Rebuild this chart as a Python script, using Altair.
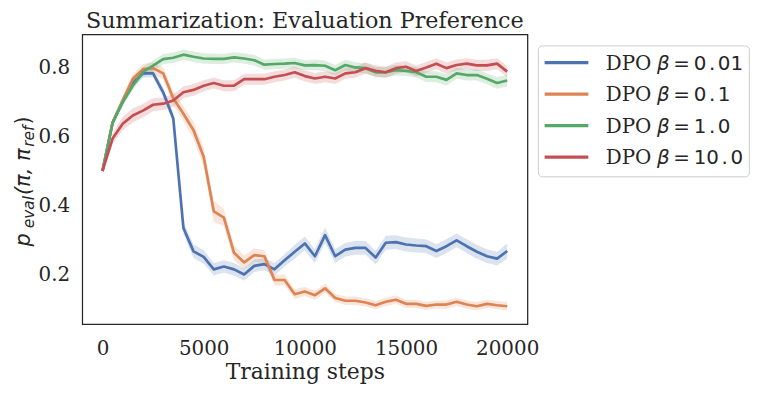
import altair as alt
import pandas as pd

steps = list(range(0, 20001, 500))

series_names = ["DPO β = 0.01", "DPO β = 0.1", "DPO β = 1.0", "DPO β = 10.0"]
beta_labels = ["0.01", "0.1", "1.0", "10.0"]
colors = ["#4c72b0", "#dd8452", "#55a868", "#c44e52"]

blue = [0.50, 0.64, 0.70, 0.755, 0.783, 0.783, 0.728, 0.652, 0.335, 0.267, 0.251,
        0.215, 0.223, 0.215, 0.200, 0.225, 0.230, 0.215, 0.241, 0.266, 0.290,
        0.253, 0.314, 0.253, 0.272, 0.277, 0.277, 0.249, 0.292, 0.294, 0.287,
        0.284, 0.282, 0.268, 0.282, 0.299, 0.282, 0.266, 0.253, 0.246, 0.268]
orange = [0.50, 0.64, 0.705, 0.767, 0.795, 0.798, 0.783, 0.711, 0.666, 0.618, 0.541,
          0.383, 0.365, 0.263, 0.235, 0.256, 0.253, 0.184, 0.184, 0.143, 0.151,
          0.140, 0.160, 0.132, 0.124, 0.124, 0.119, 0.111, 0.121, 0.127, 0.115,
          0.115, 0.109, 0.113, 0.113, 0.121, 0.113, 0.108, 0.115, 0.111, 0.108]
green = [0.50, 0.64, 0.70, 0.747, 0.787, 0.805, 0.824, 0.828, 0.837, 0.831, 0.826,
         0.825, 0.825, 0.829, 0.826, 0.821, 0.808, 0.810, 0.811, 0.813, 0.806,
         0.807, 0.805, 0.792, 0.807, 0.800, 0.798, 0.786, 0.786, 0.792, 0.790,
         0.786, 0.773, 0.773, 0.764, 0.783, 0.778, 0.778, 0.767, 0.755, 0.762]
red = [0.50, 0.594, 0.637, 0.661, 0.675, 0.692, 0.695, 0.704, 0.728, 0.735, 0.747,
       0.755, 0.747, 0.747, 0.766, 0.766, 0.766, 0.773, 0.778, 0.786, 0.775,
       0.768, 0.773, 0.768, 0.783, 0.786, 0.798, 0.790, 0.786, 0.798, 0.802,
       0.790, 0.800, 0.811, 0.798, 0.807, 0.811, 0.806, 0.806, 0.811, 0.788]

blue_ci = [0.003, 0.008, 0.010, 0.012, 0.012, 0.012, 0.014, 0.016, 0.018, 0.020, 0.020,
           0.018, 0.018, 0.018, 0.018, 0.018, 0.018, 0.018, 0.018, 0.020, 0.020,
           0.020, 0.022, 0.020, 0.020, 0.020, 0.020, 0.020, 0.020, 0.020, 0.020,
           0.020, 0.020, 0.020, 0.020, 0.020, 0.020, 0.020, 0.020, 0.020, 0.022]
orange_ci = [0.003, 0.010, 0.012, 0.014, 0.015, 0.016, 0.018, 0.020, 0.022, 0.025, 0.028,
             0.030, 0.025, 0.022, 0.020, 0.020, 0.018, 0.016, 0.015, 0.014, 0.013,
             0.013, 0.013, 0.012, 0.012, 0.012, 0.012, 0.012, 0.012, 0.012, 0.012,
             0.012, 0.012, 0.012, 0.012, 0.012, 0.012, 0.012, 0.012, 0.012, 0.012]
green_ci = [0.003, 0.010, 0.012, 0.014, 0.015, 0.015, 0.015, 0.015, 0.015, 0.015, 0.015,
            0.015, 0.015, 0.015, 0.015, 0.015, 0.015, 0.015, 0.015, 0.015, 0.015,
            0.015, 0.015, 0.015, 0.015, 0.015, 0.015, 0.015, 0.015, 0.015, 0.015,
            0.015, 0.015, 0.016, 0.016, 0.016, 0.016, 0.016, 0.016, 0.017, 0.017]
red_ci = [0.003, 0.016, 0.020, 0.020, 0.020, 0.019, 0.018, 0.018, 0.017, 0.017, 0.016,
          0.016, 0.016, 0.016, 0.016, 0.016, 0.016, 0.016, 0.016, 0.016, 0.016,
          0.016, 0.016, 0.016, 0.016, 0.016, 0.016, 0.016, 0.016, 0.016, 0.016,
          0.016, 0.016, 0.016, 0.016, 0.016, 0.016, 0.016, 0.016, 0.016, 0.016]

x_ticks = [0, 5000, 10000, 15000, 20000]
y_ticks = [0.2, 0.4, 0.6, 0.8]

rows = []
for name, vals, cis in zip(series_names, [blue, orange, green, red],
                           [blue_ci, orange_ci, green_ci, red_ci]):
    for s, v, c in zip(steps, vals, cis):
        rows.append({"step": s, "value": v, "lo": v - c, "hi": v + c, "series": name})
df = pd.DataFrame(rows)

FONT = "DejaVu Serif"
MATH = "DejaVu Sans"
TXT = "#262626"

xs = alt.Scale(domain=[-1000, 21000], nice=False, zero=False)
ys = alt.Scale(domain=[0.056, 0.896], nice=False, zero=False)
cscale = alt.Scale(domain=series_names, range=colors)

base = alt.Chart(df)

band = base.mark_area(opacity=0.2).encode(
    x=alt.X("step:Q", scale=xs),
    y=alt.Y("lo:Q", scale=ys),
    y2="hi:Q",
    color=alt.Color("series:N", scale=cscale, legend=None),
)

line = base.mark_line(strokeWidth=2.7, strokeJoin="round").encode(
    x=alt.X("step:Q", scale=xs,
            axis=alt.Axis(values=x_ticks, format="d", title="Training steps",
                          titleY=55, titleBaseline="alphabetic")),
    y=alt.Y("value:Q", scale=ys,
            axis=alt.Axis(values=y_ticks, format=".1f", title=None)),
    color=alt.Color("series:N", scale=cscale, legend=None),
)

# plot-area origin on the page
ox, oy = 82.7, 33.3

def txt(text, x, y, size, font=MATH, italic=False, angle=0, align="left"):
    return alt.Chart(pd.DataFrame({"t": [text]})).mark_text(
        text=text, font=font, fontSize=size, angle=angle, align=align,
        baseline="alphabetic", fontStyle="italic" if italic else "normal", color=TXT
    ).encode(x=alt.value(x), y=alt.value(y))

# y-axis title  p_eval(pi, pi_ref), built from pieces
ytitle = [
    txt("p", 30 - ox, 246.7 - oy, 21, italic=True, angle=270),
    txt("eval", 34 - ox, 228.5 - oy, 15.5, italic=True, angle=270),
    txt("(π, π", 30 - ox, 195 - oy, 21, italic=True, angle=270),
    txt("ref", 34 - ox, 146.5 - oy, 15.5, italic=True, angle=270),
    txt(")", 30 - ox, 124 - oy, 21, angle=270),
]

# chart title
title = txt("Summarization: Evaluation Preference", 224, 26.7 - oy, 22.4, font=FONT,
            align="center")

# legend (math-style number: integer part, point, fraction, spaced like mathtext)
DIG = 12.72      # DejaVu Sans digit advance at 20px
leg_df = pd.DataFrame({
    "series": series_names,
    "ip": [b.split(".")[0] for b in beta_labels],
    "fp": [b.split(".")[1] for b in beta_labels],
    "row": list(range(len(series_names))),
})
leg_df["ly"] = 61.7 - oy + leg_df["row"] * 31.7
leg_df["ty"] = leg_df["ly"] + 7.4
x_num = 698 - ox
leg_df["x_ip"] = x_num
leg_df["x_pt"] = x_num + leg_df["ip"].str.len() * DIG + 2.6
leg_df["x_fp"] = leg_df["x_pt"] + 6.36 + 2.6
leg_df["pt"] = "."

leg_box = alt.Chart(pd.DataFrame({"a": [0]})).mark_rect(
    fill="white", stroke="#cccccc", strokeWidth=1, cornerRadius=4
).encode(x=alt.value(541.7 - ox), x2=alt.value(754 - ox),
         y=alt.value(45 - oy), y2=alt.value(176.7 - oy))

leg_lines = alt.Chart(leg_df).mark_rule(strokeWidth=3.2).encode(
    x=alt.value(548 - ox), x2=alt.value(592 - ox),
    y=alt.Y("ly:Q", scale=None),
    color=alt.Color("series:N", scale=cscale, legend=None),
)

def leg_fixed(text, x, font, italic=False):
    return alt.Chart(leg_df).mark_text(
        text=text, font=font, fontSize=20, align="left", baseline="alphabetic",
        fontStyle="italic" if italic else "normal", color=TXT
    ).encode(x=alt.value(x), y=alt.Y("ty:Q", scale=None))

def leg_field(field, xfield):
    return alt.Chart(leg_df).mark_text(
        font=MATH, fontSize=20, align="left", baseline="alphabetic", color=TXT
    ).encode(x=alt.X(xfield + ":Q", scale=None), y=alt.Y("ty:Q", scale=None),
             text=alt.Text(field + ":N"))

leg_texts = [
    leg_fixed("DPO", 609.5 - ox, FONT),
    leg_fixed("β", 661 - ox, MATH, italic=True),
    leg_fixed("=", 677.5 - ox, MATH),
    leg_field("ip", "x_ip"),
    leg_field("pt", "x_pt"),
    leg_field("fp", "x_fp"),
]

chart = alt.layer(band, line, *ytitle, title, leg_box, leg_lines, *leg_texts).properties(
    width=448, height=291.7,
    autosize=alt.AutoSizeParams(type="none"),
    padding={"left": 74.7, "top": 25.3, "right": 230, "bottom": 62},
).configure_view(
    stroke=TXT, strokeWidth=1.25
).configure_axis(
    grid=False, domain=False, ticks=False, tickSize=0,
    labelFont=FONT, labelFontSize=20, labelColor=TXT,
    titleFont=FONT, titleFontSize=22, titleFontWeight="normal", titleColor=TXT,
).configure_axisX(labelPadding=14).configure_axisY(labelPadding=12.7)

chart.save("out.html", embed_options={"renderer": "svg", "actions": False})
